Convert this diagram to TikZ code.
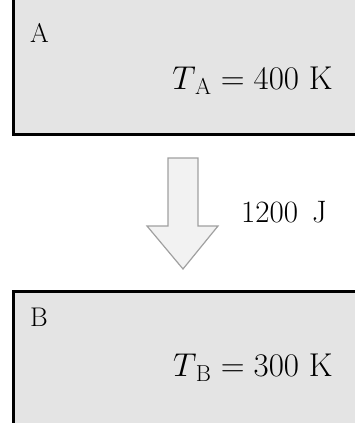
\RequirePackage{fix-cm}
\documentclass[tikz,border=0pt]{standalone}
\usetikzlibrary{positioning}
\definecolor{tankgray}{HTML}{E4E4E4}
\definecolor{arrowgray}{HTML}{F2F2F2}
\definecolor{rimgray}{HTML}{A0A0A0}

\begin{document}
\begin{tikzpicture}[
    x=1pt, y=1pt,
    tank/.style={fill=tankgray, inner sep=0pt, minimum width=400pt, minimum height=170pt},
    wall/.style={line width=3pt, line cap=rect},
    tag/.style={inner sep=0pt, font=\fontsize{27}{31}\selectfont},
    temp/.style={inner sep=0pt, font=\fontsize{33}{38}\selectfont},
    heat/.style={fill=arrowgray, draw=rimgray, line width=1.2pt, line join=miter}
]
\useasboundingbox (0,0) rectangle (355,423);
\clip (0,0) rectangle (355,423);

% hot body A
\node[tank, anchor=south west] (boxA) at (13,288) {};
\draw[wall] (boxA.north west) -- (boxA.south west) -- (boxA.south east);
\node[tag, anchor=north west] (nameA) at (30,400) {A};
\node[temp, anchor=base east] (tempA) at (333,333) {$T_{\,\mathrm{A}} = 400\ \mathrm{K}$};

% cold body B
\node[tank, anchor=north west] (boxB) at (13,131) {};
\draw[wall] (boxB.south west) -- (boxB.north west) -- (boxB.north east);
\node[tag, anchor=north west] (nameB) at (30,115) {B};
\node[temp, anchor=base east] (tempB) at (333,46) {$T_{\,\mathrm{B}} = 300\ \mathrm{K}$};

% heat flow
\coordinate (tip) at (183,154);
\draw[heat] (168,265) -- (198,265) -- (198,197) -- (218,197) -- (tip)
    -- (147,197) -- (168,197) -- cycle;
\node[tag, font=\fontsize{31}{36}\selectfont, anchor=base west] (q) at (241,200) {1200\hspace{0.45em}J};
\end{tikzpicture}
\end{document}
